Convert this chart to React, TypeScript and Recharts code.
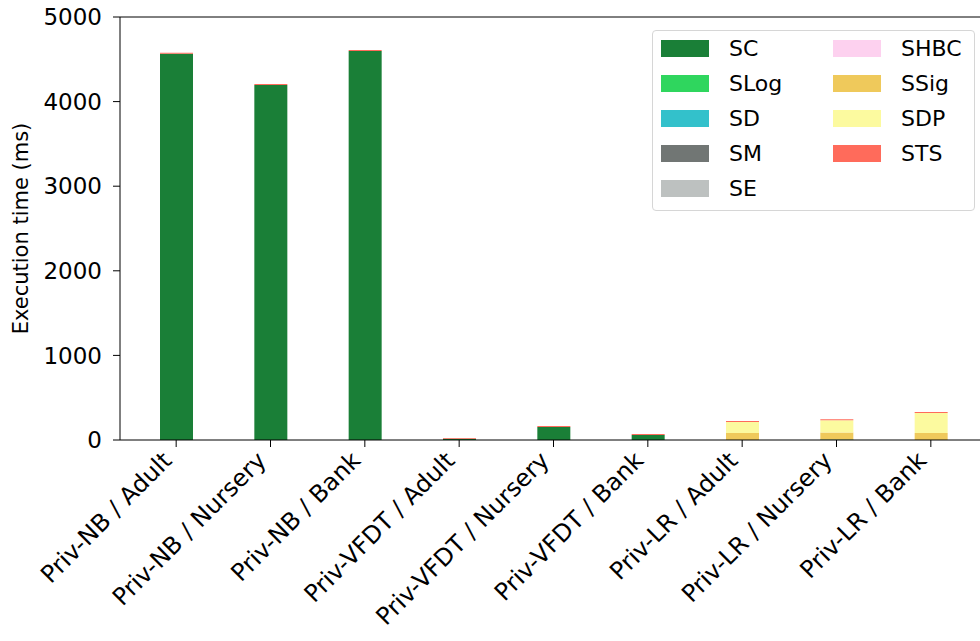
import React from 'react';
import { BarChart, Bar, XAxis, YAxis, ReferenceLine } from 'recharts';

const categories = [
  'Priv-NB / Adult',
  'Priv-NB / Nursery',
  'Priv-NB / Bank',
  'Priv-VFDT / Adult',
  'Priv-VFDT / Nursery',
  'Priv-VFDT / Bank',
  'Priv-LR / Adult',
  'Priv-LR / Nursery',
  'Priv-LR / Bank',
];

// execution time per stage (ms)
const SC = [4565, 4196, 4598, 14, 154, 59, 0, 5, 0];
const SLog = [0, 0, 0, 0, 0, 0, 0, 0, 0];
const SD = [0, 0, 0, 0, 0, 0, 0, 0, 0];
const SM = [0, 0, 0, 0, 0, 0, 0, 0, 0];
const SE = [0, 0, 0, 0, 0, 0, 0, 0, 0];
const SHBC = [0, 0, 0, 0, 0, 0, 0, 0, 0];
const SSig = [0, 0, 0, 0, 0, 0, 83, 83, 83];
const SDP = [0, 0, 0, 0, 0, 0, 130, 145, 236];
const STS = [12, 12, 12, 10, 12, 12, 12, 12, 12];

const yTicks = [0, 1000, 2000, 3000, 4000, 5000];

const series = [
  { key: 'SC', values: SC, color: '#1a7f37' },
  { key: 'SLog', values: SLog, color: '#2fd65e' },
  { key: 'SD', values: SD, color: '#33c1cb' },
  { key: 'SM', values: SM, color: '#717674' },
  { key: 'SE', values: SE, color: '#bdc1c0' },
  { key: 'SHBC', values: SHBC, color: '#fdd1ef' },
  { key: 'SSig', values: SSig, color: '#efc95b' },
  { key: 'SDP', values: SDP, color: '#fcfa9f' },
  { key: 'STS', values: STS, color: '#ff6b5b' },
];

const data = categories.map((name, i) => {
  const row: any = { name };
  series.forEach((s) => (row[s.key] = s.values[i]));
  return row;
});

const FONT = '"DejaVu Sans", sans-serif';
const FS = 22;

function XTick(props: any) {
  const { x, y, payload } = props;
  const ax = x - 3;
  const ay = y + 13;
  return (
    <text
      x={ax}
      y={ay}
      textAnchor="end"
      fontSize={24}
      fontFamily={FONT}
      fill="#000"
      transform={`rotate(-45, ${ax}, ${ay})`}
    >
      {payload.value}
    </text>
  );
}

function LegendBox() {
  const left = series.slice(0, 5);
  const right = series.slice(5);
  const col = (items: typeof series, px: number) =>
    items.map((s, i) => (
      <div
        key={s.key}
        style={{ position: 'absolute', left: px, top: 9 + i * 35, height: 17, display: 'flex', alignItems: 'center' }}
      >
        <div style={{ width: 48, height: 17, background: s.color }} />
        <span style={{ marginLeft: 20, fontSize: FS, fontFamily: FONT, color: '#000', lineHeight: '17px' }}>{s.key}</span>
      </div>
    ));
  return (
    <div
      style={{
        position: 'absolute',
        left: 652,
        top: 30,
        width: 321,
        height: 179,
        border: '1px solid #d6d6d6',
        borderRadius: 4,
        background: 'rgba(255,255,255,0.8)',
      }}
    >
      {col(left, 8)}
      {col(right, 180)}
    </div>
  );
}

export default function App() {
  return (
    <div style={{ position: 'absolute', left: 0, top: 0, width: 980, height: 641, overflow: 'hidden', background: '#fff' }}>
      <BarChart
        width={1000}
        height={641}
        data={data}
        margin={{ top: 17, right: 13, bottom: 0, left: 0 }}
        barCategoryGap={0}
      >
        <XAxis
          dataKey="name"
          interval={0}
          padding={{ left: 9, right: 9 }}
          stroke="#000"
          tickSize={7}
          tick={<XTick />}
          height={201}
        />
        <YAxis
          domain={[0, 5000]}
          ticks={yTicks}
          interval={0}
          width={120}
          stroke="#000"
          tickSize={7}
          tickMargin={11}
          tick={{ fontSize: 23, fontFamily: FONT, fill: '#000' }}
          label={{
            value: 'Execution time (ms)',
            angle: -90,
            position: 'insideLeft',
            offset: 21,
            style: { fontSize: 21, fontFamily: FONT, fill: '#000', textAnchor: 'middle' },
          }}
        />
        <ReferenceLine y={5000} stroke="#000" strokeWidth={1} />
        {series.map((s) => (
          <Bar key={s.key} dataKey={s.key} stackId="a" fill={s.color} barSize={33} isAnimationActive={false} />
        ))}
      </BarChart>
      <LegendBox />
    </div>
  );
}
